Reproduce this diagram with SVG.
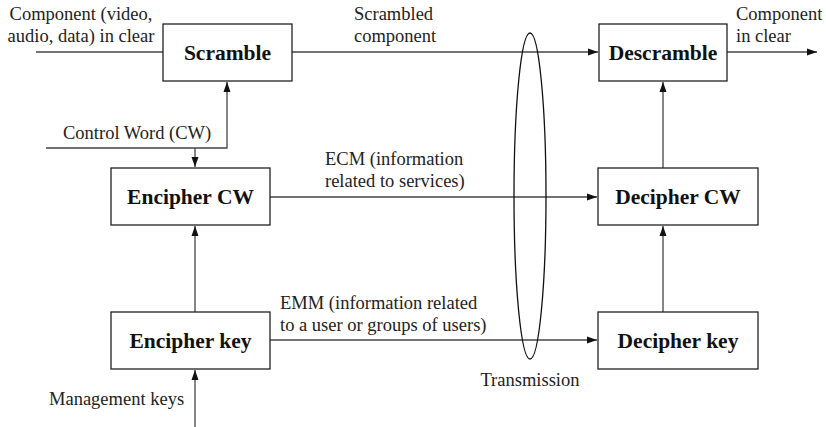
<svg xmlns="http://www.w3.org/2000/svg" width="826" height="427" viewBox="0 0 826 427">
  <defs>
    <marker id="arr" markerUnits="userSpaceOnUse" markerWidth="11" markerHeight="8" refX="10" refY="4" orient="auto">
      <path d="M0,0.5 L10,4 L0,7.5 z" fill="#111"/>
    </marker>
    <style>
      .box { fill: #fff; stroke: #222; stroke-width: 1.3; }
      .bt { font-weight: bold; font-size: 21.5px; fill: #111; text-anchor: middle; }
      .lb { font-size: 18.5px; fill: #222; }
      .ln { fill: none; stroke: #444; stroke-width: 1.3; }
      .ar { fill: none; stroke: #444; stroke-width: 1.3; marker-end: url(#arr); }
    </style>
  </defs>
  <rect width="826" height="427" fill="#fff"/>

  <g id="connectors">
    <line class="ln" x1="36" y1="52" x2="163" y2="52"/>
    <line class="ar" x1="292" y1="52" x2="598" y2="52"/>
    <line class="ar" x1="727" y1="52" x2="817" y2="52"/>
    <polyline class="ar" points="46,148 227,148 227,82"/>
    <line class="ar" x1="195" y1="148" x2="195" y2="167"/>
    <line class="ar" x1="270" y1="197" x2="597" y2="197"/>
    <line class="ar" x1="663" y1="168" x2="663" y2="82"/>
    <line class="ar" x1="663" y1="312" x2="663" y2="226"/>
    <line class="ar" x1="195" y1="312" x2="195" y2="226"/>
    <line class="ar" x1="195" y1="427" x2="195" y2="370"/>
    <line class="ar" x1="270" y1="340" x2="597" y2="340"/>
  </g>

  <g font-family="Liberation Serif, Times New Roman, DejaVu Serif, serif">
  <g id="transmission">
    <ellipse cx="530" cy="196" rx="16" ry="163" fill="none" stroke="#111" stroke-width="1.3"/>
    <text class="lb" x="530" y="386" text-anchor="middle">Transmission</text>
  </g>

  <g id="scramble">
    <rect class="box" x="163" y="24" width="129" height="57"/>
    <text class="bt" x="227.5" y="60">Scramble</text>
  </g>
  <g id="descramble">
    <rect class="box" x="599" y="24" width="128" height="57"/>
    <text class="bt" x="663" y="60">Descramble</text>
  </g>
  <g id="encipher-cw">
    <rect class="box" x="111" y="168" width="159" height="57"/>
    <text class="bt" x="190.5" y="204">Encipher CW</text>
  </g>
  <g id="decipher-cw">
    <rect class="box" x="598" y="168" width="160" height="57"/>
    <text class="bt" x="678" y="204">Decipher CW</text>
  </g>
  <g id="encipher-key">
    <rect class="box" x="111" y="312" width="159" height="57"/>
    <text class="bt" x="190.5" y="348">Encipher key</text>
  </g>
  <g id="decipher-key">
    <rect class="box" x="598" y="312" width="160" height="57"/>
    <text class="bt" x="678" y="348">Decipher key</text>
  </g>

  <g id="labels">
    <text class="lb" x="81" y="20" text-anchor="middle">Component (video,</text>
    <text class="lb" x="81" y="42" text-anchor="middle">audio, data) in clear</text>
    <text class="lb" x="354" y="20">Scrambled</text>
    <text class="lb" x="354" y="42">component</text>
    <text class="lb" x="736" y="20">Component</text>
    <text class="lb" x="736" y="42">in clear</text>
    <text class="lb" x="63" y="139">Control Word (CW)</text>
    <text class="lb" x="325" y="165">ECM (information</text>
    <text class="lb" x="325" y="187">related to services)</text>
    <text class="lb" x="280" y="309">EMM (information related</text>
    <text class="lb" x="280" y="331">to a user or groups of users)</text>
    <text class="lb" x="49" y="405">Management keys</text>
  </g>
  </g>
</svg>
